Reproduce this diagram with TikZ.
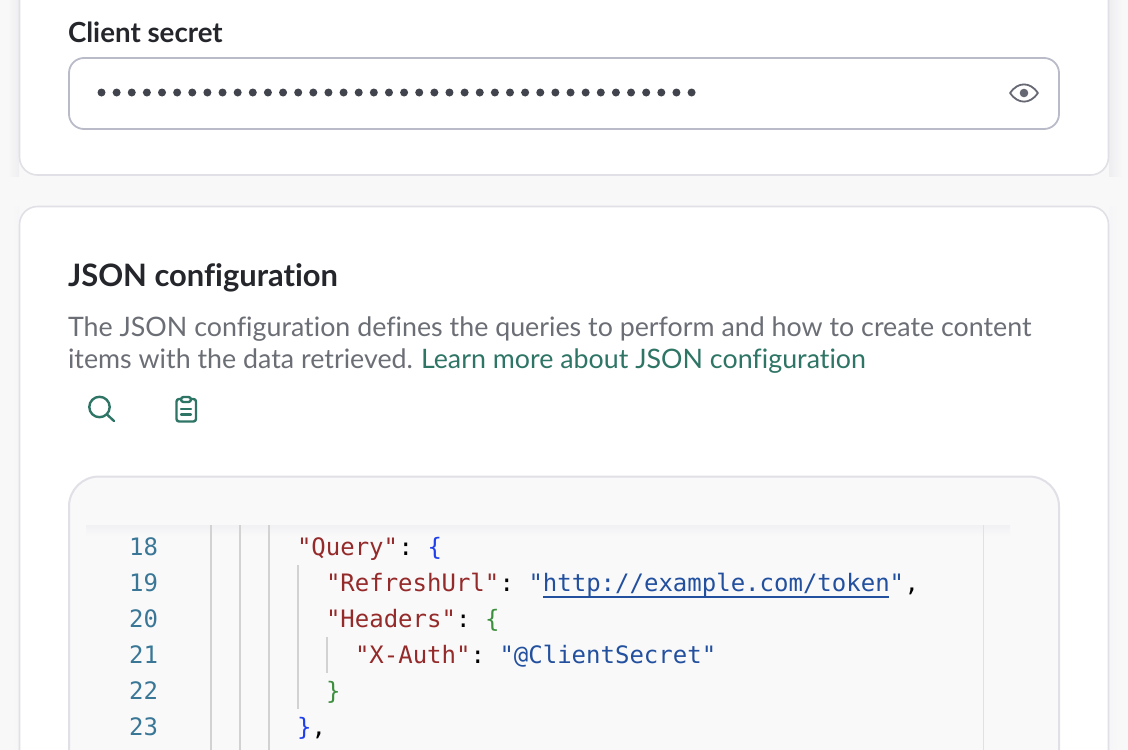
\documentclass[tikz,border=0pt]{standalone}
\usepackage{fontspec}
\setmainfont{Lato}[Ligatures=NoCommon]
\setmonofont{DejaVu Sans Mono}
\usetikzlibrary{calc}
\definecolor{pagebg}{HTML}{F8F8F8}
\definecolor{edgecol}{HTML}{E0E0E6}
\definecolor{fieldedge}{HTML}{B9BBC8}
\definecolor{codebg}{HTML}{F9F9FA}
\definecolor{ink}{HTML}{24262B}
\definecolor{greytxt}{HTML}{6C6E76}
\definecolor{teal}{HTML}{2F7566}
\definecolor{dotcol}{HTML}{41434D}
\definecolor{eyecol}{HTML}{666873}
\definecolor{guide}{HTML}{D2D2D2}
\definecolor{lnum}{HTML}{3A7796}
\definecolor{keycol}{HTML}{952A2A}
\definecolor{valcol}{HTML}{22509F}
\definecolor{bluebr}{HTML}{1F3FEA}
\definecolor{greenbr}{HTML}{3C8F3C}
\tikzset{
  x=1pt,y=-1pt,
  lbl/.style={inner sep=0pt,outer sep=0pt,anchor=base west},
  heading/.style={lbl,font=\fontsize{#1}{#1}\selectfont\bfseries,text=ink},
  body/.style={lbl,font=\fontsize{26.8}{26.8}\selectfont,text=greytxt},
  lineno/.style={inner sep=0pt,outer sep=0pt,anchor=base east,font=\fontsize{24}{24}\ttfamily,text=lnum},
  code/.style={lbl,font=\fontsize{24}{24}\ttfamily,text=#1},
  cardbox/.style={draw=edgecol,line width=1.6pt,fill=white,rounded corners=18pt},
  icon/.style={draw=teal,line width=2.4pt,line cap=round,line join=round},
  guideline/.style={draw=guide,line width=2pt},
}
\begin{document}
\begin{tikzpicture}
\useasboundingbox (0,0) rectangle (1128,750);
% page
\fill[pagebg] (0,0) rectangle (1128,750);
\fill[left color=pagebg,right color=edgecol!55] (8,0) rectangle (19,176);
\fill[left color=edgecol!55,right color=pagebg] (1109,0) rectangle (1122,176);
\fill[left color=pagebg,right color=edgecol!30] (12,206) rectangle (19,750);
\fill[left color=edgecol!30,right color=pagebg] (1109,206) rectangle (1118,750);
% cards
\path[cardbox] (19.5,-40) rectangle (1108.5,175);
\path[cardbox] (19.5,206.5) rectangle (1108.5,800);
% client secret
\node[heading=27.7] (clientlabel) at (68,42) {Client secret};
\path[draw=fieldedge,line width=1.8pt,fill=white,rounded corners=15pt] (69,58) rectangle (1059,129);
\foreach \i in {0,...,39} \fill[dotcol] ({101.5+\i*15.13},92.5) circle (4);
% eye
\draw[eyecol,line width=1.8pt,line join=round] (1010,93) .. controls (1018,81.5) and (1030,81.5) .. (1038,93) .. controls (1030,104.5) and (1018,104.5) .. (1010,93) -- cycle;
\fill[eyecol] (1024,93) circle (4.3);
% JSON config
\node[heading=30.9] (jsonhead) at (68,286) {JSON configuration};
\node[body] (desc1) at (68,336) {The JSON configuration defines the queries to perform and how to create content};
\node[body] (desc2) at (68,368) {items with the data retrieved.};
\node[body,text=teal,anchor=base west] (learn) at (421,368) {Learn more about JSON configuration};
% search icon
\draw[icon] (99.5,407) circle (10.2);
\draw[icon] (107,414.5) -- (114,421);
% clipboard icon
\draw[icon,rounded corners=2.5pt] (181,399) -- (176.5,399) -- (176.5,421.5) -- (196,421.5) -- (196,399) -- (191,399);
\draw[icon,rounded corners=2.5pt] (181,397) rectangle (191,402);
\draw[icon,line width=2.2pt] (181,409) -- (191,409) (181,414.5) -- (191,414.5);
% code box
\path[draw=edgecol,line width=2pt,fill=codebg,rounded corners=30pt] (69,476.5) rectangle (1059,820);
\fill[top color=edgecol!45,bottom color=codebg] (86,525) rectangle (1010,536);
\draw[guideline] (211,525) -- (211,750);
\draw[guideline] (240,525) -- (240,750);
\draw[guideline] (269,525) -- (269,750);
\draw[draw=edgecol,line width=1pt] (983,525) -- (983,750);
\draw[guideline] (298,565) -- (298,709);
\draw[guideline] (327,637) -- (327,673);
% numbers
\node[lineno] (n18) at (158,555) {18};
\node[lineno] (n19) at (158,591) {19};
\node[lineno] (n20) at (158,627) {20};
\node[lineno] (n21) at (158,663) {21};
\node[lineno] (n22) at (158,699) {22};
\node[lineno] (n23) at (158,735) {23};
% code
\node[code=keycol] (c18a) at (297,555) {"Query"};
\node[code=black] (c18b) at (398.5,555) {:};
\node[code=bluebr] (c18c) at (427.5,555) {\{};
\node[code=keycol] (c19a) at (326,591) {"RefreshUrl"};
\node[code=black] (c19b) at (499.5,591) {:};
\node[code=valcol] (c19c) at (528.5,591) {"http://example.com/token"};
\node[code=black] (c19d) at (904.5,591) {,};
\draw[valcol,line width=2pt] (543,597) -- (889,597);
\node[code=keycol] (c20a) at (326,627) {"Headers"};
\node[code=black] (c20b) at (456,627) {:};
\node[code=greenbr] (c20c) at (485,627) {\{};
\node[code=keycol] (c21a) at (355,663) {"X-Auth"};
\node[code=black] (c21b) at (470.7,663) {:};
\node[code=valcol] (c21c) at (499.5,663) {"@ClientSecret"};
\node[code=greenbr] (c22) at (326,699) {\}};
\node[code=bluebr] (c23a) at (297,735) {\}};
\node[code=black] (c23b) at (311.5,735) {,};
\end{tikzpicture}
\end{document}
